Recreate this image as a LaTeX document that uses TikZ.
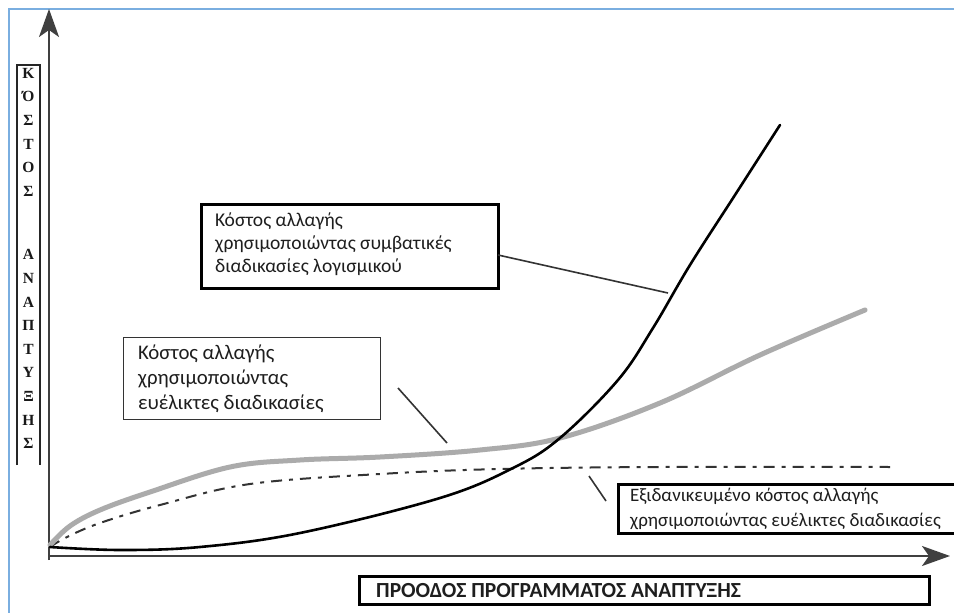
\documentclass[tikz,border=0pt]{standalone}
\usepackage{fontspec}
\setmainfont{Carlito}[BoldFont={Carlito Bold}]
\newfontfamily\serifbold{Liberation Serif Bold}
\usetikzlibrary{arrows.meta}
\definecolor{frameblue}{HTML}{7AAEE0}
\definecolor{agilegray}{HTML}{ABABAB}
\definecolor{txt}{HTML}{1E1E1E}
\tikzset{
  axisline/.style={line width=2pt, draw=black!75, -{Stealth[length=28pt,width=20pt,inset=7pt]}},
  thickbox/.style={draw=black, line width=2.6pt, fill=white, inner sep=0pt, anchor=north west},
  thinbox/.style={draw=black!80, line width=1.3pt, fill=white, inner sep=0pt, anchor=north west},
  leader/.style={draw=black!80, line width=1.6pt},
  boxtext/.style={text=txt, align=left, anchor=base west, inner sep=0pt},
}
\begin{document}
\begin{tikzpicture}[x=1pt,y=-1pt]
\useasboundingbox (0,0) rectangle (954,613);
\fill[white] (0,0) rectangle (954,613);
% blue frame
\draw[frameblue, line width=2.2pt] (9,613) -- (9,9) -- (954,9);

% axes
\coordinate (O) at (49,556);
\coordinate (ytip) at (49,9);
\coordinate (xtip) at (950,556);
\draw[axisline] (49,560) -- (ytip);
\draw[axisline] (O) -- (xtip);

% vertical axis label
\draw[black!85, line width=1.4pt] (17,465) -- (17,65) -- (40,65) -- (40,465);
\node[anchor=north, inner sep=0pt, align=center, text=black!90, font=\serifbold\fontsize{15.5}{23.6}\selectfont] (ylab) at (28.5,68)
 {Κ\\Ό\\Σ\\Τ\\Ο\\Σ\\[40pt]Α\\Ν\\Α\\Π\\Τ\\Υ\\Ξ\\Η\\Σ};

% idealized (dash-dot)
\draw[black!80, line width=2pt, dash pattern=on 11pt off 7pt on 4pt off 7pt]
  plot[smooth, tension=0.6] coordinates {(50,547) (67,537) (100,523) (160,505) (250,484) (380,474) (500,469) (660,467) (890,467)};

% agile (gray)
\draw[agilegray, line width=5pt, line cap=round]
  plot[smooth, tension=0.6] coordinates {(50,545) (70,526) (100,510) (150,492) (230,467) (300,460) (380,457) (480,450) (560,438) (660,403) (760,355) (865,310)};

% conventional (black)
\draw[black, line width=2.6pt, line cap=round]
  plot[smooth, tension=0.6] coordinates {(50,547) (120,550) (200,547) (300,533) (440,498) (513,468) (560,438) (618,380) (653,328) (690,265) (735,195) (780,125)};

% boxes
\node[thickbox, minimum width=297pt, minimum height=84pt] (b1) at (200,203) {};
\node[boxtext, font=\fontsize{19.5}{23}\selectfont] (t1) at (215,272) {Κόστος αλλαγής\\χρησιμοποιώντας συμβατικές\\διαδικασίες λογισμικού};

\node[thinbox, minimum width=257pt, minimum height=82pt] (b2) at (123,337) {};
\node[boxtext, font=\fontsize{20.8}{25}\selectfont] (t2) at (138,409) {Κόστος αλλαγής\\χρησιμοποιώντας\\ευέλικτες διαδικασίες};

\node[thickbox, minimum width=360pt, minimum height=49pt] (b3) at (617,483) {};
\node[boxtext, font=\fontsize{19}{25}\selectfont] (t3) at (630,526) {Εξιδανικευμένο κόστος αλλαγής\\χρησιμοποιώντας ευέλικτες διαδικασίες};

\node[thickbox, minimum width=570pt, minimum height=28pt] (bx) at (358,575) {};
\node[boxtext, font=\bfseries\fontsize{21.5}{24}\selectfont] (tx) at (376,597) {ΠΡΟΟΔΟΣ ΠΡΟΓΡΑΜΜΑΤΟΣ ΑΝΑΠΤΥΞΗΣ};

% leaders
\coordinate (l1a) at (498,255);
\coordinate (l1b) at (668,293);
\coordinate (l2a) at (398,388);
\coordinate (l2b) at (447,443);
\coordinate (l3a) at (589,476);
\coordinate (l3b) at (606,501);
\draw[leader] (l1a) -- (l1b);
\draw[leader] (l2a) -- (l2b);
\draw[leader] (l3a) -- (l3b);
\end{tikzpicture}
\end{document}
